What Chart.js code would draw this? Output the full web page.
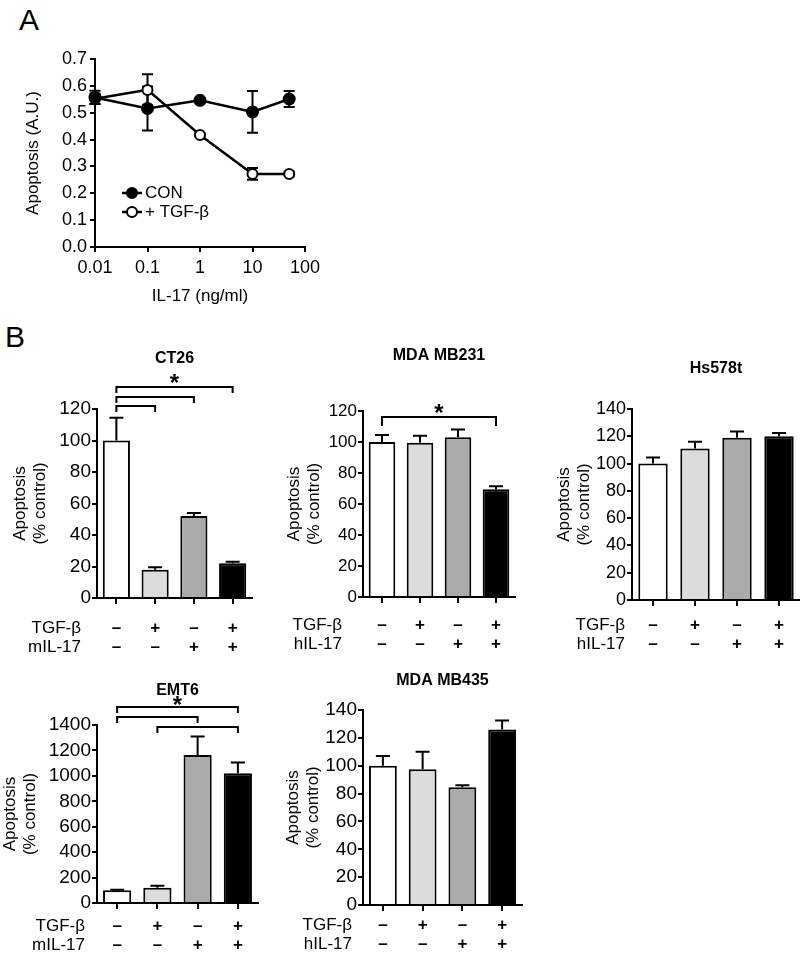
<!DOCTYPE html>
<html>
<head>
<meta charset="utf-8">
<script src="https://cdn.jsdelivr.net/npm/chart.js@4.4.0/dist/chart.umd.min.js"></script>
<style>
body { margin: 0; background: #fff; width: 800px; height: 956px; position: relative; overflow: hidden;
       font-family: "Liberation Sans", Arial, Helvetica, sans-serif; }
.panel { position: absolute; }
.lbl { position: absolute; font-size: 30px; line-height: 30px; color: #000; }
</style>
</head>
<body>
<div class="lbl" style="left:19px;top:5px">A</div>
<div class="lbl" style="left:5px;top:322px">B</div>
<div class="panel" id="pA"><canvas id="cA"></canvas></div>
<div class="panel" id="pCT26"><canvas id="cCT26"></canvas></div>
<div class="panel" id="pMB231"><canvas id="cMB231"></canvas></div>
<div class="panel" id="pHs"><canvas id="cHs"></canvas></div>
<div class="panel" id="pEMT6"><canvas id="cEMT6"></canvas></div>
<div class="panel" id="pMB435"><canvas id="cMB435"></canvas></div>
<script>
// ---- panel A data ----
var doses = [0.01, 0.1, 1, 10, 50];
var doseTicks = [0.01, 0.1, 1, 10, 100];
var conMean = [0.557, 0.516, 0.546, 0.503, 0.551];
var conErr  = [0.025, 0.082, 0.008, 0.078, 0.03];
var tgfMean = [0.552, 0.585, 0.417, 0.272, 0.272];
var tgfErr  = [0.02, 0.058, 0.006, 0.022, 0.008];

// ---- panel B data ----
var tgfRow  = ['\u2013', '+', '\u2013', '+'];
var il17Row = ['\u2013', '\u2013', '+', '+'];

var ct26Mean  = [100, 18, 52, 22];
var ct26Err   = [14.5, 1.5, 2, 1];
var ct26Pairs = [[0, 3], [0, 2], [0, 1]];

var mb231Mean  = [100, 99.5, 103, 69.5];
var mb231Err   = [4.5, 4.5, 5, 2];
var mb231Pairs = [[0, 3]];

var hsMean = [100, 111, 119, 120];
var hsErr  = [4.5, 5, 4.5, 2.5];

var emt6Mean  = [100, 120, 1165, 1020];
var emt6Err   = [5, 15, 145, 85];
var emt6Pairs = [[0, 3], [0, 2], [1, 3]];

var mb435Mean = [100, 97.5, 84.5, 126];
var mb435Err  = [7, 12.5, 1.5, 6.5];

var barColors = ['#ffffff', '#dcdcdc', '#aaaaaa', '#000000'];
var FONT = '"Liberation Sans", Arial, Helvetica, sans-serif';

Chart.defaults.font.family = FONT;
Chart.defaults.font.size = 17;
Chart.defaults.color = '#000';
Chart.defaults.animation = false;

// error bars from dataset.err, through the y scale
function drawErr(chart) {
    var o = chart.options.plugins.errorBars || {};
    var ctx = chart.ctx, ys = chart.scales.y;
    chart.data.datasets.forEach(function(ds, di) {
        if (!ds.err) return;
        var meta = chart.getDatasetMeta(di);
        ctx.save();
        ctx.strokeStyle = '#000';
        ctx.lineWidth = 2;
        meta.data.forEach(function(el, i) {
            var v = ds.data[i];
            if (typeof v === 'object') v = v.y;
            var top = ys.getPixelForValue(v + ds.err[i]);
            var bot = ys.getPixelForValue(o.both ? v - ds.err[i] : v);
            var w = o.cap || 6;
            ctx.beginPath();
            ctx.moveTo(el.x, bot); ctx.lineTo(el.x, top);
            ctx.moveTo(el.x - w, top); ctx.lineTo(el.x + w, top);
            if (o.both) { ctx.moveTo(el.x - w, bot); ctx.lineTo(el.x + w, bot); }
            ctx.stroke();
        });
        ctx.restore();
    });
}
var errorBars = {
    id: 'errorBars',
    beforeDatasetsDraw: function(chart) { if ((chart.options.plugins.errorBars || {}).behind) drawErr(chart); },
    afterDatasetsDraw: function(chart) { if (!(chart.options.plugins.errorBars || {}).behind) drawErr(chart); }
};

// legend of panel A
var keyA = {
    id: 'keyA',
    afterDatasetsDraw: function(chart) {
        var o = chart.options.plugins.keyA;
        var ctx = chart.ctx, ca = chart.chartArea;
        chart.data.datasets.forEach(function(ds, i) {
            var y = ca.top + o.y[i], x0 = ca.left + o.x;
            ctx.save();
            ctx.strokeStyle = '#000';
            ctx.lineWidth = 2.5;
            ctx.beginPath(); ctx.moveTo(x0, y); ctx.lineTo(x0 + o.len, y); ctx.stroke();
            ctx.beginPath(); ctx.arc(x0 + o.len / 2, y, 5, 0, 2 * Math.PI);
            ctx.fillStyle = ds.pointBackgroundColor; ctx.fill();
            ctx.lineWidth = 2; ctx.stroke();
            ctx.fillStyle = '#000';
            ctx.font = o.font + 'px ' + FONT;
            ctx.textBaseline = 'middle';
            ctx.fillText(ds.label, x0 + o.len + 3, y);
            ctx.restore();
        });
    }
};

// titles, significance brackets and row labels of the bar panels
var decor = {
    id: 'decor',
    afterDraw: function(chart) {
        var o = chart.options.plugins.decor;
        var ctx = chart.ctx, ca = chart.chartArea, xs = chart.scales.x;
        ctx.save();
        ctx.fillStyle = '#000';
        ctx.strokeStyle = '#000';
        ctx.font = 'bold 16px ' + FONT;
        ctx.textAlign = 'center';
        ctx.textBaseline = 'alphabetic';
        ctx.fillText(o.title, (ca.left + ca.right) / 2, o.titleBase);

        if (o.pairs) {
            ctx.lineWidth = 2;
            o.pairs.forEach(function(p, k) {
                var xa = xs.getPixelForValue(p[0]), xb = xs.getPixelForValue(p[1]);
                var y = ca.top + o.brY[k];
                ctx.beginPath();
                ctx.moveTo(xa, y + o.drop); ctx.lineTo(xa, y); ctx.lineTo(xb, y); ctx.lineTo(xb, y + o.drop);
                ctx.stroke();
            });
            var p0 = o.pairs[0];
            var sx = (xs.getPixelForValue(p0[0]) + xs.getPixelForValue(p0[1])) / 2;
            ctx.font = 'bold 24px ' + FONT;
            ctx.fillText('*', sx, o.starY + 13);
        }

        var tl = 6, lh = 19;
        ctx.font = '17px ' + FONT;
        ctx.textAlign = 'right';
        ctx.textBaseline = 'middle';
        [o.rowNames[0], o.rowNames[1]].forEach(function(name, i) {
            ctx.fillText(name, o.rowX, ca.bottom + tl + o.rowPad + lh * (i + 0.5));
        });
        ctx.restore();
    }
};

function place(id, box) {
    var d = document.getElementById('p' + id.slice(1));
    d.style.left = box[0] + 'px';
    d.style.top = box[1] + 'px';
    var cv = document.getElementById(id);
    cv.width = box[2];
    cv.height = box[3];
    return cv;
}

// ---- panel A ----
(function() {
    var box = [0, 0, 340, 320], area = [95, 59, 305, 247];
    var cv = place('cA', box);
    function pts(ys) { return doses.map(function(d, i) { return { x: d, y: ys[i] }; }); }
    new Chart(cv, {
        type: 'line',
        data: {
            datasets: [
                { label: 'CON', data: pts(conMean), err: conErr, borderColor: '#000', borderWidth: 2.5,
                  pointRadius: 5.5, pointBorderWidth: 2, pointBackgroundColor: '#000', pointBorderColor: '#000', clip: false },
                { label: '+ TGF-\u03b2', data: pts(tgfMean), err: tgfErr, borderColor: '#000', borderWidth: 2.5,
                  pointRadius: 5, pointBorderWidth: 2, pointBackgroundColor: '#fff', pointBorderColor: '#000', clip: false }
            ]
        },
        options: {
            responsive: false,
            animation: false,
            layout: { padding: { left: 0, top: area[1] - box[1], right: box[0] + box[2] - area[2], bottom: 0 } },
            plugins: {
                legend: { display: false },
                tooltip: { enabled: false },
                errorBars: { both: true, cap: 5.5, behind: true },
                keyA: { x: 27, len: 20, y: [134, 153], font: 17 }
            },
            scales: {
                x: {
                    type: 'logarithmic', min: 0.01, max: 100,
                    afterBuildTicks: function(s) { s.ticks = doseTicks.map(function(v) { return { value: v }; }); },
                    ticks: { callback: function(v) { return String(v); }, padding: 5, autoSkip: false, maxRotation: 0, font: { size: 18 } },
                    grid: { drawOnChartArea: false, tickLength: 5, color: '#000', lineWidth: 2 },
                    border: { color: '#000', width: 2 },
                    title: { display: true, text: 'IL-17 (ng/ml)', padding: { bottom: 13 } },
                    afterFit: function(s) { s.height = box[1] + box[3] - area[3]; }
                },
                y: {
                    min: 0, max: 0.7,
                    ticks: { stepSize: 0.1, padding: 3, autoSkip: false, font: { size: 18 }, callback: function(v) { return v.toFixed(1); } },
                    grid: { drawOnChartArea: false, tickLength: 5, color: '#000', lineWidth: 2 },
                    border: { color: '#000', width: 2 },
                    title: { display: true, text: 'Apoptosis (A.U.)', padding: { top: 23 } },
                    afterFit: function(s) { s.width = area[0] - box[0]; }
                }
            }
        },
        plugins: [errorBars, keyA]
    });
})();

// ---- panel B ----
function barChart(p) {
    var box = p.box, area = p.area;
    var cv = place(p.id, box);
    new Chart(cv, {
        type: 'bar',
        data: {
            labels: tgfRow.map(function(t, i) { return [t, il17Row[i]]; }),
            datasets: [{
                data: p.mean, err: p.err,
                backgroundColor: barColors, borderColor: '#000', borderWidth: 2, borderSkipped: 'start',
                barPercentage: 0.7, categoryPercentage: 1
            }]
        },
        options: {
            responsive: false,
            animation: false,
            layout: { padding: { left: 0, top: area[1] - box[1], right: box[0] + box[2] - area[2], bottom: 0 } },
            plugins: {
                legend: { display: false },
                tooltip: { enabled: false },
                errorBars: { both: false, cap: 7 },
                decor: {
                    title: p.title, titleBase: p.titleBase,
                    pairs: p.pairs, brY: p.brY, drop: p.drop, starY: p.starY,
                    rowNames: ['TGF-\u03b2', p.cyto], rowX: p.rowX - box[0], rowPad: p.rowPad
                }
            },
            scales: {
                x: {
                    grid: { offset: false, drawOnChartArea: false, tickLength: 6, color: '#000', lineWidth: 2 },
                    border: { color: '#000', width: 2 },
                    ticks: { autoSkip: false, maxRotation: 0, padding: p.rowPad, font: { weight: 'bold', lineHeight: 19 / 17 } },
                    afterFit: function(s) { s.height = box[1] + box[3] - area[3]; }
                },
                y: {
                    min: 0, max: p.max,
                    ticks: { stepSize: p.step, padding: 1, autoSkip: false, font: { size: p.tickSize }, callback: function(v) { return String(v); } },
                    grid: { drawOnChartArea: false, tickLength: 5, color: '#000', lineWidth: 2 },
                    border: { color: '#000', width: 2 },
                    title: { display: true, text: ['Apoptosis', '(% control)'], padding: { top: p.ytPad } },
                    afterFit: function(s) { s.width = area[0] - box[0]; }
                }
            }
        },
        plugins: [errorBars, decor]
    });
}

barChart({ id: 'cCT26', title: 'CT26', mean: ct26Mean, err: ct26Err, max: 120, step: 20, cyto: 'mIL-17',
    pairs: ct26Pairs, brY: [-22, -12, -3], drop: 6, starY: 38, tickSize: 19,
    box: [0, 340, 262, 320], area: [97, 409, 252, 598], titleBase: 23, rowX: 81, rowPad: 14.5, ytPad: 10 });

barChart({ id: 'cMB231', title: 'MDA MB231', mean: mb231Mean, err: mb231Err, max: 120, step: 20, cyto: 'hIL-17',
    pairs: mb231Pairs, brY: [6], drop: 9, starY: 68, tickSize: 17,
    box: [262, 340, 270, 320], area: [363, 411, 515, 597], titleBase: 20, rowX: 342, rowPad: 12.5, ytPad: 22 });

barChart({ id: 'cHs', title: 'Hs578t', mean: hsMean, err: hsErr, max: 140, step: 20, cyto: 'hIL-17', tickSize: 18,
    box: [532, 340, 268, 320], area: [632, 409, 800, 600], titleBase: 33, rowX: 625, rowPad: 9.5, ytPad: 22 });

barChart({ id: 'cEMT6', title: 'EMT6', mean: emt6Mean, err: emt6Err, max: 1400, step: 200, cyto: 'mIL-17',
    pairs: emt6Pairs, brY: [-18, -8, 2], drop: 6, starY: 40, tickSize: 19,
    box: [0, 660, 262, 296], area: [97, 725, 258, 903], titleBase: 35, rowX: 85, rowPad: 7.5, ytPad: 0 });

barChart({ id: 'cMB435', title: 'MDA MB435', mean: mb435Mean, err: mb435Err, max: 140, step: 20, cyto: 'hIL-17', tickSize: 19,
    box: [262, 660, 270, 296], area: [363, 710, 522, 905], titleBase: 25, rowX: 352, rowPad: 4.5, ytPad: 21 });
</script>
</body>
</html>
